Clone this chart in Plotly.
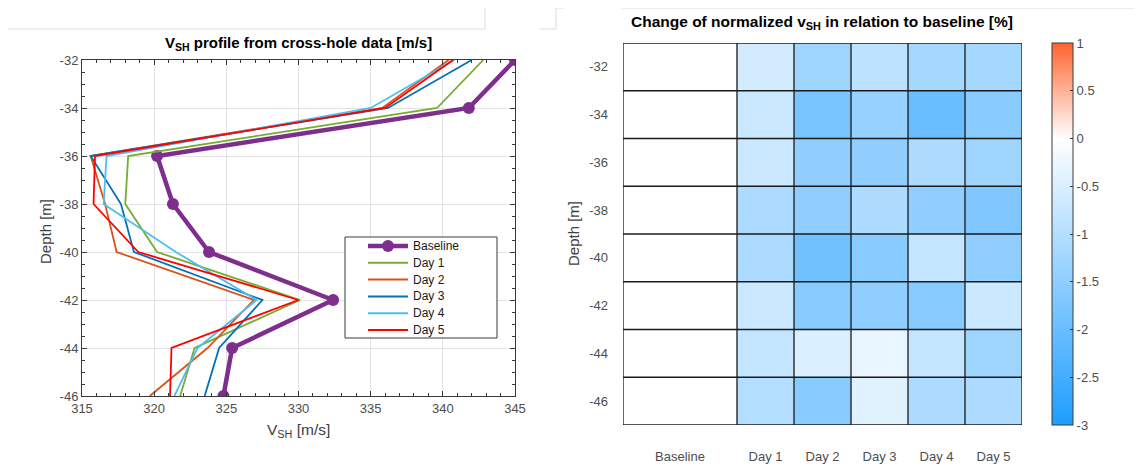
import plotly.graph_objects as go

# ---------------- data ----------------
depths = [-32, -34, -36, -38, -40, -42, -44, -46]

baseline = [345.0, 341.8, 320.2, 321.3, 323.8, 332.4, 325.4, 324.8]
day1 = [342.8, 339.6, 318.2, 318.0, 320.2, 330.1, 322.8, 321.8]
day2 = [340.4, 335.8, 315.6, 316.6, 317.4, 326.9, 323.7, 319.7]
day3 = [342.0, 336.2, 315.6, 317.7, 318.6, 327.5, 324.5, 323.5]
day4 = [340.8, 335.0, 316.7, 316.5, 321.5, 327.1, 323.0, 321.4]
day5 = [340.7, 336.0, 315.9, 315.8, 318.9, 330.0, 321.2, 321.1]

series_names = ["Baseline", "Day 1", "Day 2", "Day 3", "Day 4", "Day 5"]

# change of normalized vSH [%] : rows = depths, cols = Baseline, Day1..Day5
change = [
    [0.0, -0.6, -1.3, -0.9, -1.2, -1.2],
    [0.0, -0.7, -1.8, -1.4, -2.0, -1.6],
    [0.0, -0.7, -1.5, -1.5, -1.1, -1.3],
    [0.0, -1.1, -1.5, -1.1, -1.5, -1.7],
    [0.0, -1.1, -1.9, -1.6, -0.8, -1.5],
    [0.0, -0.7, -1.6, -1.5, -1.6, -0.7],
    [0.0, -0.8, -0.5, -0.3, -0.8, -1.3],
    [0.0, -1.0, -1.6, -0.4, -1.1, -1.1],
]
col_edges = [0, 2, 3, 4, 5, 6, 7]          # baseline column is double width
row_edges = [-31, -33, -35, -37, -39, -41, -43, -45, -47]
cbar_ticks = [1, 0.5, 0, -0.5, -1, -1.5, -2, -2.5, -3]

x_ticks = [315, 320, 325, 330, 335, 340, 345]

# ---------------- layout helpers ----------------
OFF = 8                      # page body margin of the html page
W, H = 1142 - OFF, 470 - OFF
def px(x):
    return (x - OFF) / W
def py(y):
    return 1 - (max(y, OFF) - OFF) / H

def lab(v):
    return ("%g" % v)

FONT = "Liberation Sans, Arial, Helvetica, sans-serif"
TICKC = "#4d4d4d"
AXC = "#3a3a3a"
TF = 13     # tick font size

fig = go.Figure()

colors = ["rgb(126,47,142)", "rgb(119,172,48)", "rgb(217,83,25)",
          "rgb(0,114,189)", "rgb(77,190,238)", "rgb(255,0,0)"]
all_series = [baseline, day1, day2, day3, day4, day5]

for i, (name, vals) in enumerate(zip(series_names, all_series)):
    if i == 0:
        fig.add_trace(go.Scatter(
            x=vals, y=depths, name=name, mode="lines+markers",
            line=dict(color=colors[i], width=4.5),
            marker=dict(color=colors[i], size=12),
            xaxis="x", yaxis="y", showlegend=False))
    else:
        fig.add_trace(go.Scatter(
            x=vals, y=depths, name=name, mode="lines",
            line=dict(color=colors[i], width=1.8),
            xaxis="x", yaxis="y", showlegend=False))

# heatmap
col_centers = [(col_edges[i] + col_edges[i + 1]) / 2 for i in range(len(col_edges) - 1)]
fig.add_trace(go.Heatmap(
    z=change, x=col_edges, y=depths,
    zmin=-3, zmax=1,
    colorscale=[[0.0, "rgb(30,157,255)"], [0.75, "rgb(255,255,255)"], [1.0, "rgb(255,100,45)"]],
    xaxis="x2", yaxis="y2", showlegend=False,
    colorbar=dict(
        x=px(1052), xanchor="left", y=py(234), yanchor="middle",
        thickness=21, len=382, lenmode="pixels", ypad=0, xpad=0,
        tickvals=cbar_ticks, ticktext=[lab(v) for v in cbar_ticks],
        ticks="inside", ticklen=3, tickcolor=AXC,
        outlinecolor=AXC, outlinewidth=1,
        tickfont=dict(family=FONT, size=TF, color=TICKC),
    ),
))

shapes = []
annotations = []
# cell borders for the heatmap
for xe in col_edges:
    shapes.append(dict(type="line", xref="x2", yref="y2", x0=xe, x1=xe,
                       y0=row_edges[0], y1=row_edges[-1], line=dict(color="#1a1a1a", width=1.3)))
for ye in row_edges:
    shapes.append(dict(type="line", xref="x2", yref="y2", x0=col_edges[0], x1=col_edges[-1],
                       y0=ye, y1=ye, line=dict(color="#1a1a1a", width=1.3)))

# faint screenshot frame lines
frame = [((8, 29), (485, 29)), ((485, 29), (485, 8)), ((540, 29), (556, 29)),
         ((556, 29), (556, 8)), ((556, 8), (564, 8)),
         ((622, 8), (1142, 8))]
for (a, b) in frame:
    shapes.append(dict(type="line", xref="paper", yref="paper",
                       x0=px(a[0]), y0=py(a[1]), x1=px(b[0]), y1=py(b[1]),
                       line=dict(color="#dcdcdc", width=1)))

# legend (drawn box)
LX0, LY0, LX1, LY1 = 345, 237, 497, 338
shapes.append(dict(type="rect", xref="paper", yref="paper",
                   x0=px(LX0), y0=py(LY1), x1=px(LX1), y1=py(LY0),
                   fillcolor="white", line=dict(color=AXC, width=1), layer="above"))
for i, name in enumerate(series_names):
    yy = 246 + i * 16.8
    shapes.append(dict(type="line", xref="paper", yref="paper",
                       x0=px(368), x1=px(408), y0=py(yy), y1=py(yy), layer="above",
                       line=dict(color=colors[i], width=4.5 if i == 0 else 2)))
    if i == 0:
        shapes.append(dict(type="circle", xref="paper", yref="paper", layer="above",
                           x0=px(382), x1=px(394), y0=py(yy + 6), y1=py(yy - 6),
                           fillcolor=colors[i], line=dict(color=colors[i], width=0)))
    annotations.append(dict(text=name, x=px(411), y=py(yy), xref="paper", yref="paper",
                            showarrow=False, xanchor="left", yanchor="middle",
                            font=dict(family=FONT, size=12, color="#1a1a1a")))

annotations += [
    dict(text="<b>V<sub>SH</sub> profile from cross-hole data [m/s]</b>", x=px(298), y=py(43),
         xref="paper", yref="paper", showarrow=False, xanchor="center", yanchor="middle",
         font=dict(family=FONT, size=15, color="#000")),
    dict(text="V<sub>SH</sub> [m/s]", x=px(298), y=py(430),
         xref="paper", yref="paper", showarrow=False, xanchor="center", yanchor="middle",
         font=dict(family=FONT, size=15.5, color="#404040")),
    dict(text="Depth [m]", x=px(45), y=py(232), textangle=-90,
         xref="paper", yref="paper", showarrow=False, xanchor="center", yanchor="middle",
         font=dict(family=FONT, size=15, color="#404040")),
    dict(text="<b>Change of normalized v<sub>SH</sub> in relation to baseline [%]</b>", x=px(822), y=py(23),
         xref="paper", yref="paper", showarrow=False, xanchor="center", yanchor="middle",
         font=dict(family=FONT, size=15.5, color="#000")),
    dict(text="Depth [m]", x=px(573), y=py(234), textangle=-90,
         xref="paper", yref="paper", showarrow=False, xanchor="center", yanchor="middle",
         font=dict(family=FONT, size=15, color="#404040")),
]

fig.update_layout(
    template="none",
    width=W, height=H,
    margin=dict(l=0, r=0, t=0, b=0, pad=0),
    paper_bgcolor="white", plot_bgcolor="white",
    font=dict(family=FONT, size=TF, color=TICKC),
    showlegend=False,
    xaxis=dict(domain=[px(82), px(515)], anchor="y", range=[315, 345], automargin=False,
               tickvals=x_ticks, ticktext=[lab(v) for v in x_ticks],
               ticks="inside", ticklen=5, tickcolor=AXC,
               showline=True, linecolor=AXC, linewidth=1, mirror="ticks",
               showgrid=True, gridcolor="#e3e3e3", gridwidth=1, zeroline=False,
               minor=dict(dtick=1, ticks="inside", ticklen=3, tickcolor=AXC, showgrid=False),
               tickfont=dict(family=FONT, size=TF, color=TICKC)),
    yaxis=dict(domain=[py(396), py(60)], anchor="x", range=[-46, -32], automargin=False,
               tickvals=depths, ticktext=[lab(v) for v in depths],
               ticks="inside", ticklen=5, tickcolor=AXC,
               showline=True, linecolor=AXC, linewidth=1, mirror="ticks",
               showgrid=True, gridcolor="#e3e3e3", gridwidth=1, zeroline=False,
               minor=dict(dtick=0.5, ticks="inside", ticklen=3, tickcolor=AXC, showgrid=False),
               tickfont=dict(family=FONT, size=TF, color=TICKC)),
    xaxis2=dict(domain=[px(623), px(1022)], anchor="y2", range=[col_edges[0], col_edges[-1]],
                automargin=False,
                tickvals=col_centers, ticktext=series_names, ticks="",
                ticklabelstandoff=22,
                showline=False, showgrid=False, zeroline=False,
                tickfont=dict(family=FONT, size=TF, color=TICKC)),
    yaxis2=dict(domain=[py(425), py(43)], anchor="x2", range=[row_edges[-1], row_edges[0]],
                automargin=False,
                tickvals=depths, ticktext=[lab(v) for v in depths], ticks="", ticklabelstandoff=14,
                showline=False, showgrid=False, zeroline=False,
                tickfont=dict(family=FONT, size=TF, color=TICKC)),
    shapes=shapes,
    annotations=annotations,
)

fig.write_html("out.html")
